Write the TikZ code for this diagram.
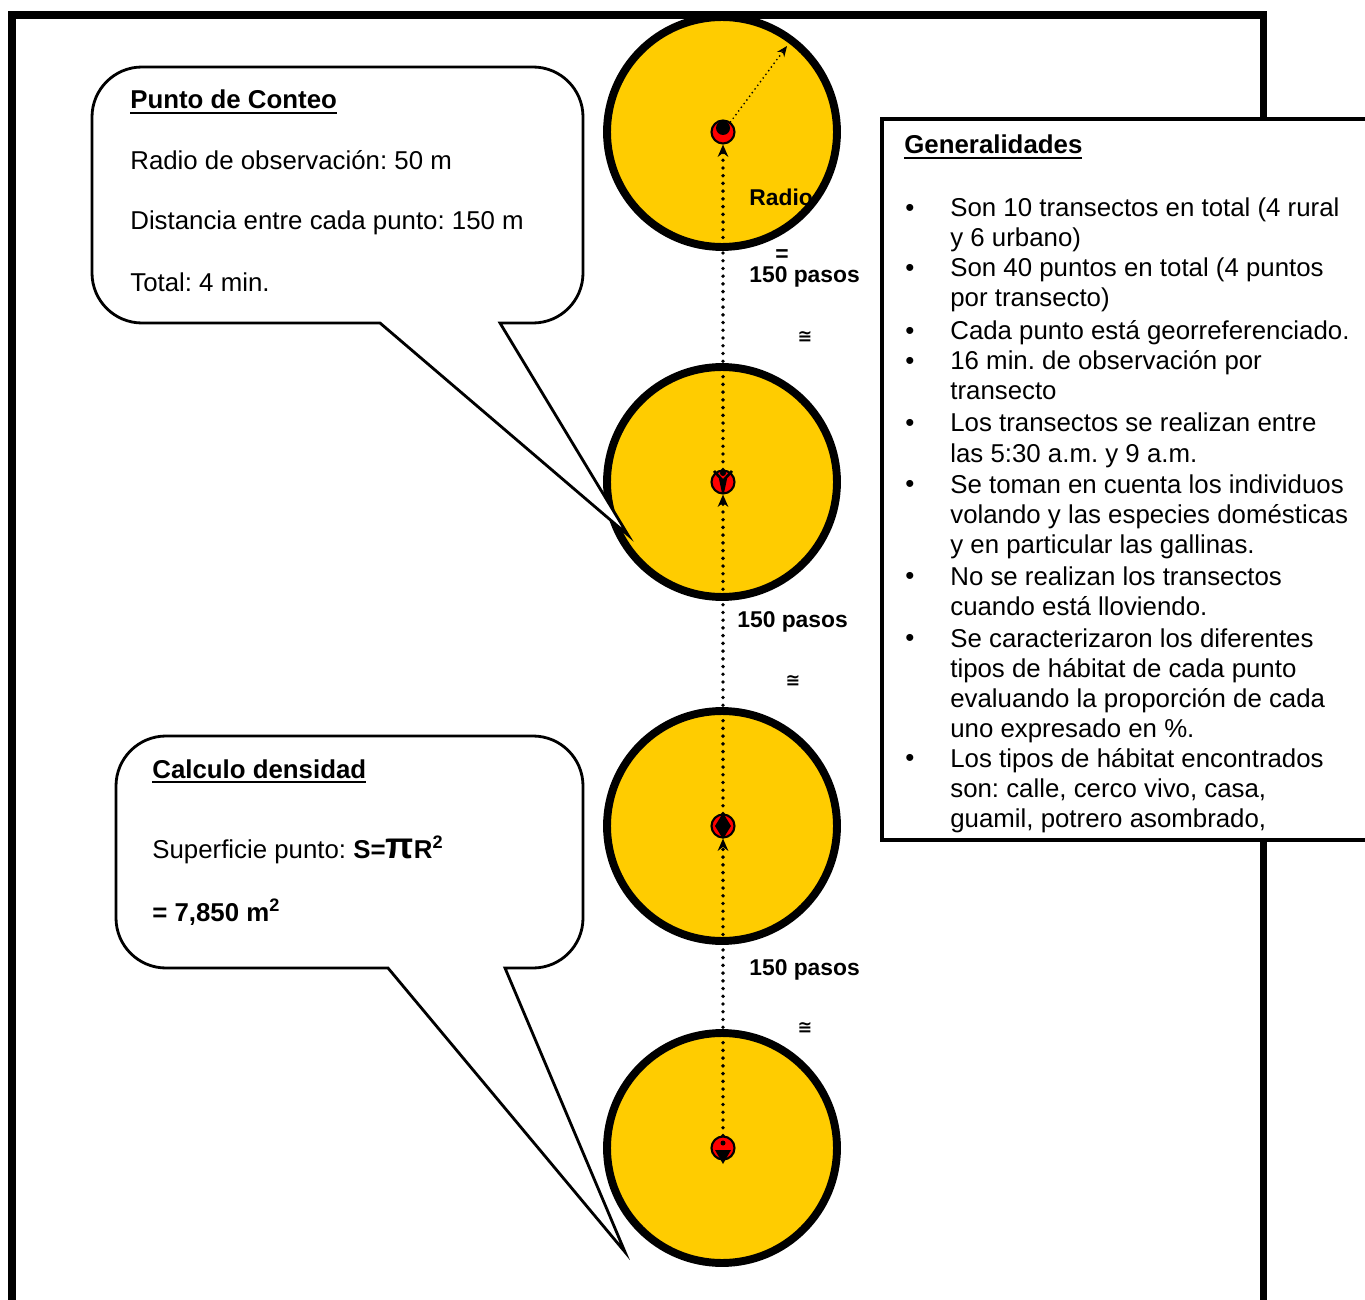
\documentclass[tikz,border=0pt]{standalone}
\usepackage{fontspec}
\setmainfont{Liberation Sans}
\newfontfamily\simbolos{DejaVu Sans}
\usetikzlibrary{arrows.meta}
\definecolor{amarillo}{RGB}{255,204,0}
\definecolor{rojo}{RGB}{255,0,0}
\frenchspacing
\newsavebox\cajasub
\newcommand\subrayar[1]{\sbox\cajasub{#1}\usebox\cajasub\llap{\rule[-2.8pt]{\wd\cajasub}{1.1pt}}}

\begin{document}
\begin{tikzpicture}[x=0.02cm,y=-0.02cm,
    zona/.style={circle,draw,line width=4.5pt,fill=amarillo,minimum size=4.6cm,inner sep=0pt},
    punto/.style={circle,draw,line width=1.2pt,fill=rojo,minimum size=0.46cm,inner sep=0pt},
    ruta/.style={line width=2.2pt,dash pattern=on 0pt off 4.4pt,line cap=round},
    radio/.style={line width=1.1pt,dash pattern=on 0pt off 2.6pt,line cap=round},
    globo/.style={draw,line width=1.6pt,fill=white},
    marco/.style={line width=4pt},
    aprox/.style={inner sep=0pt,font=\simbolos\fontsize{10}{10}\selectfont\bfseries},
    txt/.style={anchor=base west,inner sep=0pt,font=\fontsize{14.7}{17}\selectfont},
    tit/.style={anchor=base west,inner sep=0pt,font=\fontsize{14.7}{17}\selectfont\bfseries},
    etq/.style={anchor=base west,inner sep=0pt,font=\fontsize{13}{15}\selectfont\bfseries}]
  \useasboundingbox (0,0) rectangle (1365,1300);

  % marco exterior
  \draw[marco] (12,1320) -- (12,15) -- (1263,15) -- (1263,1320);

  % puntos de conteo
  \node[zona] (c1) at (722,132) {};
  \node[zona] (c2) at (722,482) {};
  \node[zona] (c3) at (722,826) {};
  \node[zona] (c4) at (722,1148) {};
  \node[punto] (p1) at (723,132) {};
  \node[punto] (p2) at (723,482) {};
  \node[punto] (p3) at (723,826) {};
  \node[punto] (p4) at (723,1148) {};

  % figuras
  \fill (723,128) circle (7);
  \fill (723,473) circle (3);
  \draw[line width=1.5pt] (714,471) -- (723,481) -- (732,471);
  \fill (719,479) -- (727,479) -- (724,493) -- (722,493) -- cycle;
  \fill (723,813) -- (731,826) -- (723,839) -- (715,826) -- cycle;
  \fill (723,1143) circle (2.5);
  \fill (715,1150) -- (731,1150) -- (723,1164) -- cycle;

  % recorrido
  \begin{scope}[-{Stealth[length=7pt,width=6pt]}]
    \draw[ruta] (p2) -- (p1);
    \draw[ruta] (p3) -- (p2);
    \draw[ruta] (p4) -- (p3);
  \end{scope}
  \coordinate (r1) at (787,46);
  \draw[radio,-{Stealth[length=6pt,width=5pt]}] (p1) -- (r1);

  \node[etq] (radio) at (749,206) {Radio};
  \node[etq] (igual) at (775,262) {=};
  \node[etq] (d1) at (749,283) {150 pasos};
  \node[etq] (d2) at (737,627) {150 pasos};
  \node[etq] (d3) at (749,975) {150 pasos};
  \node[aprox] (a1) at (805,337) {≅};
  \node[aprox] (a2) at (793,681) {≅};
  \node[aprox] (a3) at (805,1028) {≅};

  % globo punto de conteo
  \draw[globo,rounded corners=1cm] (583,200) -- (583,67) -- (92,67) -- (92,323)
    [sharp corners] -- (380,323) -- (628,535) -- (500,323) [rounded corners=1cm]
    -- (583,323) -- cycle;
  \node[tit] (t1) at (130,109) {\subrayar{Punto de Conteo}};
  \node[txt] (l1) at (130,170) {Radio de observación: 50 m};
  \node[txt] (l2) at (130,230) {Distancia entre cada punto: 150 m};
  \node[txt] (l3) at (130,292) {Total: 4 min.};

  % globo densidad
  \draw[globo,rounded corners=1cm] (583,850) -- (583,736) -- (116,736) -- (116,968)
    [sharp corners] -- (388,968) -- (625,1252) -- (505,968) [rounded corners=1cm]
    -- (583,968) -- cycle;
  \node[tit] (t2) at (152,778) {\subrayar{Calculo densidad}};
  \node[txt] (s1) at (152,858) {Superficie punto: \textbf{S=}{\bfseries\fontsize{21}{21}\selectfont π}\textbf{R\textsuperscript{2}}};
  \node[txt] (s2) at (152,921) {\textbf{= 7,850 m\textsuperscript{2}}};

  % generalidades
  \draw[line width=1.8pt,fill=white] (882,119) rectangle (1385,840);
  \node[tit] (t3) at (904,154) {\subrayar{Generalidades}};
  \foreach \y in {217,277,340,370,432,493,585,647,767}
    \node (b\y) at (910,\y-7) {\fontsize{14.7}{17}\selectfont •};
  \foreach \y/\t in {217/{Son 10 transectos en total (4 rural},
      247/{y 6 urbano)},
      277/{Son 40 puntos en total (4 puntos},
      307/{por transecto)},
      340/{Cada punto está georreferenciado.},
      370/{16 min. de observación por},
      400/{transecto},
      432/{Los transectos se realizan entre},
      462/{las 5:30 a.m. y 9 a.m.},
      493/{Se toman en cuenta los individuos},
      523/{volando y las especies domésticas},
      553/{y en particular las gallinas.},
      585/{No se realizan los transectos},
      615/{cuando está lloviendo.},
      647/{Se caracterizaron los diferentes},
      677/{tipos de hábitat de cada punto},
      707/{evaluando la proporción de cada},
      737/{uno expresado en \%.},
      767/{Los tipos de hábitat encontrados},
      797/{son: calle, cerco vivo, casa,},
      827/{guamil, potrero asombrado,}}
    \node[txt] (g\y) at (950,\y) {\t};
\end{tikzpicture}
\end{document}
